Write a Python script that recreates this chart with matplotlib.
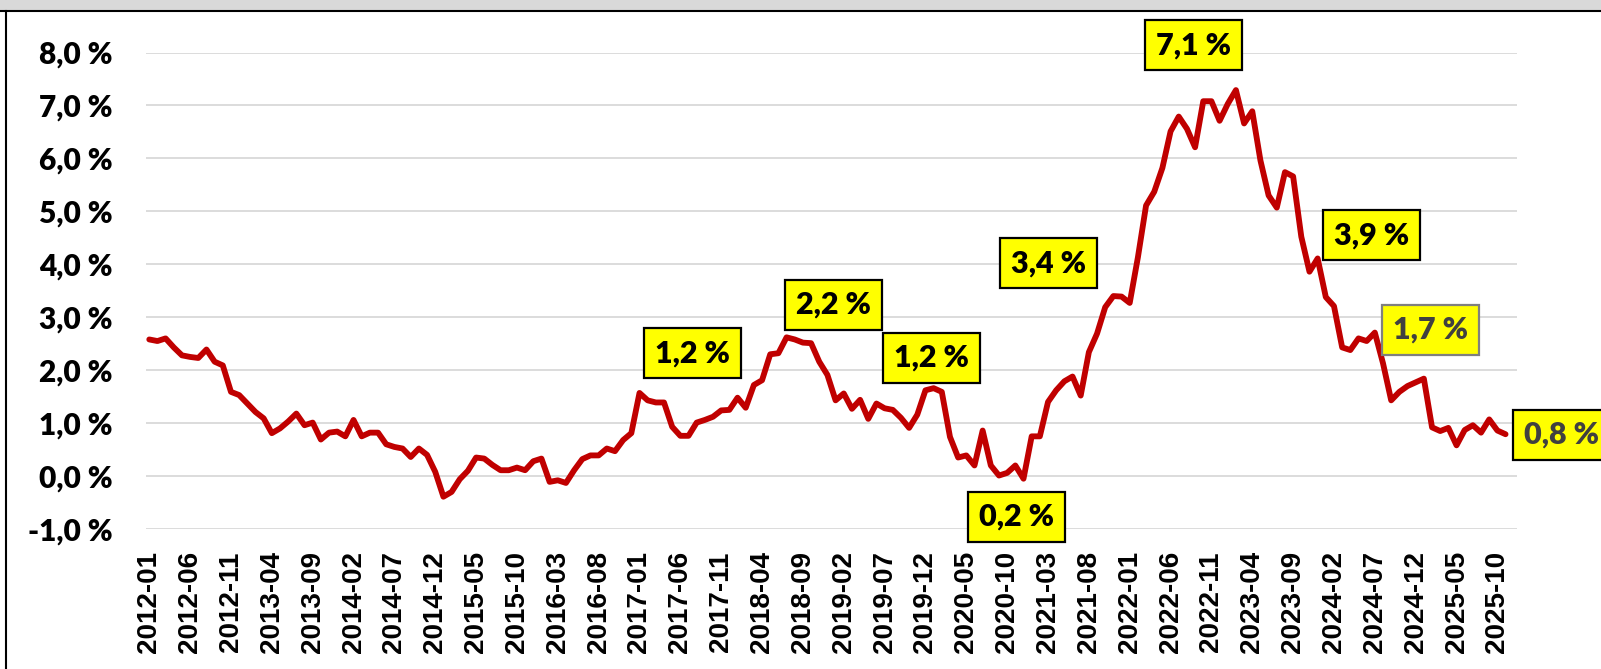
#!/usr/bin/env python3

import numpy as np
import pandas as pd
import matplotlib.pyplot as plt
from matplotlib.lines import Line2D
from matplotlib.patches import Rectangle

# monthly inflation, 2012-01 .. 2025-11
months = [str(p) for p in pd.period_range('2012-01', '2025-11', freq='M')]
inflation = [
    2.58, 2.55, 2.60, 2.43, 2.28, 2.25, 2.23, 2.39, 2.16, 2.09,
    1.59, 1.53, 1.37, 1.21, 1.09, 0.81, 0.90, 1.03, 1.18, 0.96,
    1.01, 0.69, 0.82, 0.84, 0.75, 1.06, 0.75, 0.82, 0.82, 0.60,
    0.55, 0.52, 0.36, 0.52, 0.40, 0.08, -0.39, -0.30, -0.06, 0.10,
    0.35, 0.33, 0.21, 0.11, 0.11, 0.16, 0.11, 0.28, 0.33, -0.11,
    -0.08, -0.13, 0.11, 0.32, 0.39, 0.39, 0.52, 0.47, 0.68, 0.81,
    1.57, 1.43, 1.39, 1.39, 0.93, 0.76, 0.76, 1.01, 1.06, 1.12,
    1.24, 1.25, 1.48, 1.29, 1.72, 1.81, 2.30, 2.32, 2.62, 2.58,
    2.52, 2.51, 2.16, 1.91, 1.43, 1.56, 1.27, 1.44, 1.08, 1.37,
    1.28, 1.25, 1.10, 0.91, 1.16, 1.62, 1.66, 1.59, 0.74, 0.35,
    0.39, 0.20, 0.86, 0.20, 0.01, 0.06, 0.20, -0.05, 0.75, 0.75,
    1.40, 1.62, 1.79, 1.88, 1.52, 2.34, 2.69, 3.19, 3.40, 3.39,
    3.27, 4.13, 5.11, 5.37, 5.82, 6.51, 6.79, 6.56, 6.21, 7.08,
    7.08, 6.71, 7.03, 7.29, 6.66, 6.89, 5.96, 5.30, 5.07, 5.74,
    5.66, 4.52, 3.86, 4.11, 3.38, 3.21, 2.43, 2.38, 2.60, 2.55,
    2.71, 2.13, 1.43, 1.59, 1.70, 1.77, 1.84, 0.92, 0.85, 0.91,
    0.58, 0.87, 0.96, 0.82, 1.07, 0.86, 0.79,
]
y_ticks = [-1, 0, 1, 2, 3, 4, 5, 6, 7, 8]

# callout boxes: text, x (month index), y (%), text colour, edge colour
callouts = [
    ('1,2 %', 66.5, 2.32, 'black', 'black'),
    ('2,2 %', 83.7, 3.24, 'black', 'black'),
    ('1,2 %', 95.7, 2.23, 'black', 'black'),
    ('0,2 %', 106.1, -0.77, 'black', 'black'),
    ('3,4 %', 110.1, 4.02, 'black', 'black'),
    ('7,1 %', 127.8, 8.14, 'black', 'black'),
    ('3,9 %', 149.6, 4.55, 'black', 'black'),
    ('1,7 %', 156.8, 2.76, '#404040', '#7f7f7f'),
]
last_label = '0,8 %'

W, H = 1601, 669
fig = plt.figure(figsize=(W / 100, H / 100), dpi=100)
ax = fig.add_axes([146 / W, 1 - 529 / H, (1517 - 146) / W, (529 - 52.5) / H])

x = np.arange(len(inflation))
ax.plot(x, inflation, color='#C00000', lw=4.2, solid_joinstyle='round',
        solid_capstyle='round', zorder=3)

ax.set_xlim(-0.4, 167.4)
ax.set_ylim(-1, 8)
ax.set_yticks(y_ticks)
ax.set_yticklabels([f'{v:.1f} %'.replace('.', ',') for v in y_ticks],
                   fontfamily='Lato', fontweight='heavy', fontsize=21.5)
ax.set_xticks(x[::5])
ax.set_xticklabels(months[::5], rotation=90, fontfamily='Liberation Sans',
                   fontweight='bold', fontsize=20)
ax.tick_params(axis='both', length=0)
ax.tick_params(axis='y', pad=24)
ax.tick_params(axis='x', pad=16)
ax.grid(axis='y', color='#d9d9d9', lw=1.3)
ax.set_axisbelow(True)
for s in ax.spines.values():
    s.set_visible(False)

box = dict(boxstyle='square,pad=0.36', facecolor='#FFFF00', lw=1.6)
for txt, cx, cy, tc, ec in callouts:
    ax.text(cx, cy, txt, ha='center', va='center', color=tc,
            fontfamily='Lato', fontweight='heavy', fontsize=22,
            bbox=dict(box, edgecolor=ec), clip_on=False, zorder=5)
ax.text(168.3, inflation[-1] - 0.01, last_label, ha='left', va='center',
        color='#404040', fontfamily='Lato', fontweight='heavy', fontsize=22,
        bbox=dict(box, edgecolor='black'), clip_on=False, zorder=5)

# grey band and frame at the top/left
fig.patches.append(Rectangle((0, 1 - 11 / H), 1, 11 / H, transform=fig.transFigure,
                             facecolor='#d9d9d9', edgecolor='none', zorder=0))
fig.lines.append(Line2D([0, 1], [1 - 11 / H] * 2, transform=fig.transFigure,
                        color='black', lw=1.5))
fig.lines.append(Line2D([6 / W] * 2, [0, 1 - 11 / H], transform=fig.transFigure,
                        color='black', lw=1.5))

fig.savefig('out.png', dpi=100)
